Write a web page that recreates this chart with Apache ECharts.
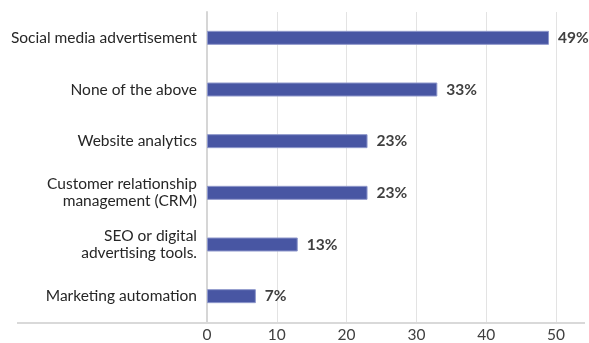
<!DOCTYPE html>
<html>
<head>
<meta charset="utf-8">
<style>html,body{margin:0;padding:0;background:#fff}#c{width:589px;height:343px}</style>
<script src="https://cdn.jsdelivr.net/npm/echarts@6/dist/echarts.min.js"></script>
</head>
<body>
<div id="c"></div>
<script>
const categories = [
  "Social media advertisement",
  "None of the above",
  "Website analytics",
  "Customer relationship\nmanagement (CRM)",
  "SEO or digital\nadvertising tools.",
  "Marketing automation"
];
const values = [49, 33, 23, 23, 13, 7];
const xTicks = [0, 10, 20, 30, 40, 50];

const chart = echarts.init(document.getElementById('c'), null, {renderer: 'canvas'});
chart.setOption({
  animation: false,
  textStyle: {fontFamily: 'Lato'},
  grid: {left: 207, right: 33, top: 12, bottom: 20, containLabel: false},
  xAxis: {
    type: 'value', min: xTicks[0], max: xTicks[xTicks.length - 1], interval: 10,
    axisLine: {show: false}, axisTick: {show: false},
    splitLine: {lineStyle: {color: '#e3e3e3', width: 1}},
    axisLabel: {color: '#404040', fontSize: 15.5, fontFamily: 'Lato', margin: 5}
  },
  yAxis: {
    type: 'category', data: categories, inverse: true,
    axisLine: {show: true, lineStyle: {color: '#d6d6d6', width: 2}},
    axisTick: {show: false},
    axisLabel: {color: '#262626', fontSize: 15.5, fontFamily: 'Lato', margin: 10, lineHeight: 17, align: 'right'}
  },
  series: [{
    type: 'bar', data: values, barWidth: 14,
    itemStyle: {color: '#4856A3', borderColor: '#8E97CB', borderWidth: 1},
    label: {show: true, position: 'right', distance: 9, formatter: '{c}%',
      color: '#404040', fontSize: 15.5, fontWeight: 'bold', fontFamily: 'Lato'}
  }],
  graphic: [{
    type: 'line', z: 100,
    shape: {x1: 17, y1: 323, x2: 585, y2: 323},
    style: {stroke: '#d9d9d9', lineWidth: 2}
  }]
});
</script>
</body>
</html>
